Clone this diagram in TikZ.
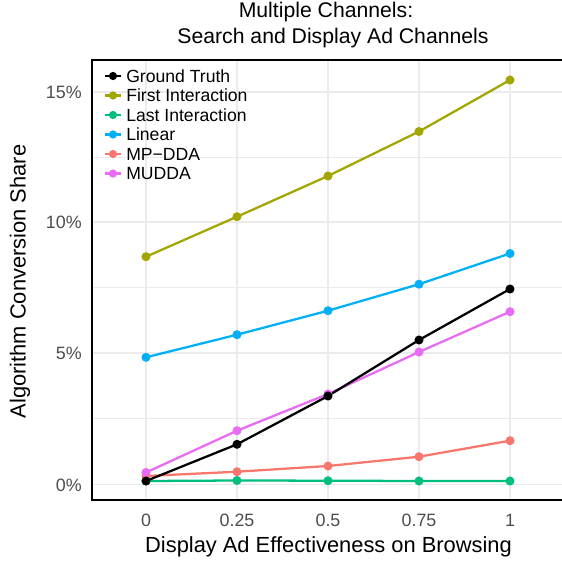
\documentclass[tikz,border=0pt]{standalone}
\usepackage{fontspec}
\setmainfont{Liberation Sans}
\definecolor{cgt}{HTML}{000000}
\definecolor{cfi}{HTML}{A3A500}
\definecolor{cli}{HTML}{00BF7D}
\definecolor{clin}{HTML}{00B0F6}
\definecolor{cmp}{HTML}{F8766D}
\definecolor{cmu}{HTML}{E76BF3}
\definecolor{gridc}{HTML}{EBEBEB}
\definecolor{tickc}{HTML}{4D4D4D}
\begin{document}
\begin{tikzpicture}[x=0.75pt,y=-0.75pt,
  gridmajor/.style={draw=gridc, line width=1.1pt},
  gridminor/.style={draw=gridc, line width=0.75pt},
  axisline/.style={line width=1.5pt, line cap=rect},
  series/.style={line width=1.7pt, line cap=round, line join=round},
  keyline/.style={line width=1.6pt},
  ticklab/.style={text=tickc, font=\fontsize{13.4}{15}\selectfont, inner sep=0pt},
  axtitle/.style={font=\fontsize{16.4}{19}\selectfont, inner sep=0pt},
  titletext/.style={font=\fontsize{15.9}{18}\selectfont, inner sep=0pt},
  legtext/.style={font=\fontsize{13.2}{15}\selectfont, inner sep=0pt, anchor=base west}]
\useasboundingbox (0,0) rectangle (562,561);

% grid
\foreach \yy in {418.5,287.5,157} \draw[gridminor] (92,\yy) -- (562,\yy);
\foreach \yy in {484.5,353,222,92} \draw[gridmajor] (92,\yy) -- (562,\yy);
\foreach \xx in {146,237,328,419,510} \draw[gridmajor] (\xx,60) -- (\xx,500);

% axis frame
\coordinate (tl) at (92,60);
\coordinate (bl) at (92,500);
\coordinate (tr) at (563,60);
\coordinate (br) at (563,500);
\draw[axisline] (tr) -- (tl) -- (bl) -- (br);

% data coordinates
\coordinate (gt0) at (146,481);   \coordinate (gt1) at (237,444.3); \coordinate (gt2) at (328,396);
\coordinate (gt3) at (419,340);   \coordinate (gt4) at (510,289);
\coordinate (fi0) at (146,256.7); \coordinate (fi1) at (237,216.7); \coordinate (fi2) at (328,176);
\coordinate (fi3) at (419,131.5); \coordinate (fi4) at (510,80);
\coordinate (li0) at (146,481);   \coordinate (li1) at (237,480.5); \coordinate (li2) at (328,480.7);
\coordinate (li3) at (419,481);   \coordinate (li4) at (510,481);
\coordinate (lin0) at (146,357.3); \coordinate (lin1) at (237,334.7); \coordinate (lin2) at (328,310.7);
\coordinate (lin3) at (419,284.2); \coordinate (lin4) at (510,253.5);
\coordinate (mp0) at (146,476);   \coordinate (mp1) at (237,471.7); \coordinate (mp2) at (328,466);
\coordinate (mp3) at (419,456.7); \coordinate (mp4) at (510,440.7);
\coordinate (mu0) at (146,472.5); \coordinate (mu1) at (237,430.7); \coordinate (mu2) at (328,394);
\coordinate (mu3) at (419,352);   \coordinate (mu4) at (510,311.7);

% lines
\draw[series, cfi] (fi0) -- (fi1) -- (fi2) -- (fi3) -- (fi4);
\draw[series, cli] (li0) -- (li1) -- (li2) -- (li3) -- (li4);
\draw[series, clin] (lin0) -- (lin1) -- (lin2) -- (lin3) -- (lin4);
\draw[series, cmp] (mp0) -- (mp1) -- (mp2) -- (mp3) -- (mp4);
\draw[series, cmu] (mu0) -- (mu1) -- (mu2) -- (mu3) -- (mu4);
\draw[series, cgt] (gt0) -- (gt1) -- (gt2) -- (gt3) -- (gt4);

% points
\foreach \s/\c in {fi/cfi, li/cli, lin/clin, mp/cmp, mu/cmu, gt/cgt}
  \foreach \i in {0,...,4}
    \fill[\c] (\s\i) circle[radius=3.4pt];

% legend
\foreach \lab/\c [count=\k from 0] in {Ground Truth/cgt, First Interaction/cfi, Last Interaction/cli, Linear/clin, MP{\rm\char"2212}DDA/cmp, MUDDA/cmu}{
  \pgfmathsetmacro{\ry}{76+19.5*\k}
  \coordinate (ka\k) at (105,\ry);
  \coordinate (kb\k) at (121,\ry);
  \coordinate (kc\k) at (113,\ry);
  \draw[keyline, \c] (ka\k) -- (kb\k);
  \fill[\c] (kc\k) circle[radius=3.1pt];
  \node[legtext] (leg\k) at (126,\ry+6.2) {\lab};
}

% y tick labels
\node[ticklab, anchor=base east] (y0) at (82,491.2) {0\%};
\node[ticklab, anchor=base east] (y5) at (82,359.7) {5\%};
\node[ticklab, anchor=base east] (y10) at (82,228.7) {10\%};
\node[ticklab, anchor=base east] (y15) at (82,98.7) {15\%};

% x tick labels
\node[ticklab, anchor=base] (x0) at (146,526.5) {0};
\node[ticklab, anchor=base] (x1) at (237,526.5) {0.25};
\node[ticklab, anchor=base] (x2) at (328,526.5) {0.5};
\node[ticklab, anchor=base] (x3) at (419,526.5) {0.75};
\node[ticklab, anchor=base] (x4) at (510,526.5) {1};

% axis titles
\node[axtitle, anchor=base] (xt) at (328.5,552.5) {Display Ad Effectiveness on Browsing};
\node[axtitle, anchor=base, rotate=90] (yt) at (25.5,281.5) {Algorithm Conversion Share};

% title
\node[titletext, anchor=base] (t1) at (326,17.5) {Multiple Channels:};
\node[titletext, anchor=base] (t2) at (333,43.5) {Search and Display Ad Channels};
\end{tikzpicture}
\end{document}
